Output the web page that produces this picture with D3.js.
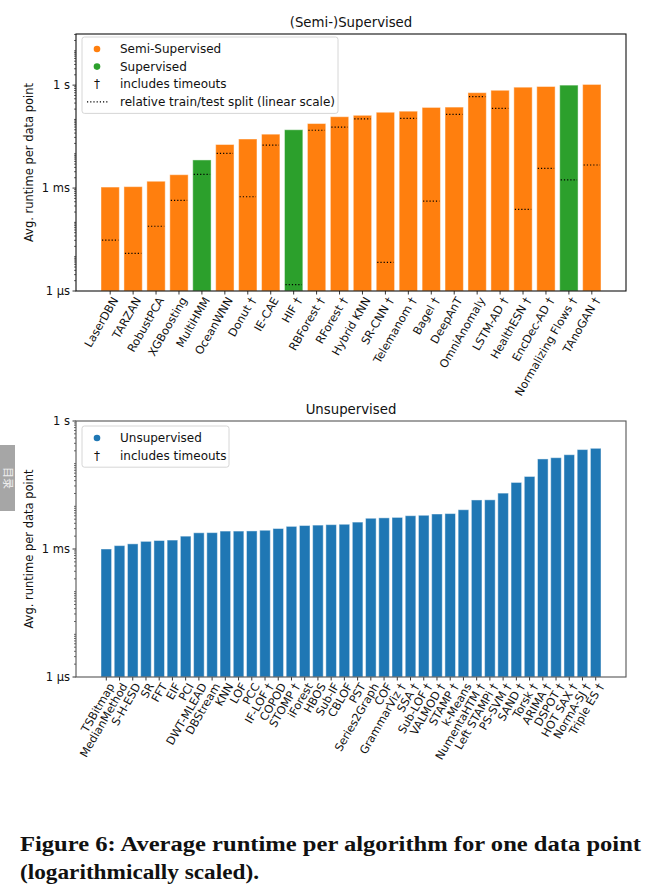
<!DOCTYPE html>
<html><head><meta charset="utf-8">
<script src="https://cdn.jsdelivr.net/npm/d3@7"></script>
<style>body{margin:0;background:#fff}svg{display:block}</style>
</head><body>
<script>
// ---------- DATA ----------
const supCategories = ["LaserDBN","TARZAN","RobustPCA","XGBoosting","MultiHMM","OceanWNN","Donut †","IE-CAE","HIF †","RBForest †","RForest †","Hybrid KNN","SR-CNN †","Telemanom †","Bagel †","DeepAnT","OmniAnomaly","LSTM-AD †","HealthESN †","EncDec-AD †","Normalizing Flows †","TAnoGAN †"];
const supRuntime = [1.07e-3,1.10e-3,1.58e-3,2.45e-3,6.6e-3,0.0186,0.0269,0.0372,0.0501,0.0759,0.120,0.132,0.162,0.174,0.224,0.229,0.603,0.708,0.871,0.912,1.0,1.047];
const supType = ["semi","semi","semi","semi","sup","semi","semi","semi","sup","semi","semi","semi","semi","semi","semi","semi","semi","semi","semi","semi","sup","semi"];
const supTrainShare = [0.49,0.36,0.59,0.78,0.89,0.94,0.62,0.93,0.04,0.96,0.94,0.98,0.16,0.96,0.49,0.96,0.98,0.91,0.40,0.60,0.54,0.61];

const unsupCategories = ["TSBitmap","MedianMethod","S-H-ESD","SR","FFT","EIF","PCI","DWT-MLEAD","DBStream","KNN","LOF","PCC","IF-LOF †","COPOD","STOMP †","iForest","HBOS","Sub-IF","CBLOF","PST","Series2Graph","COF","GrammarViz †","SSA †","Sub-LOF †","VALMOD †","STAMP †","k-Means","NumentaHTM †","Left STAMPi †","PS-SVM †","SAND †","Torsk †","ARIMA †","DSPOT †","HOT SAX †","NormA-SJ †","Triple ES †"];
const unsupRuntime = [1.00e-3,1.20e-3,1.32e-3,1.51e-3,1.58e-3,1.62e-3,2.00e-3,2.40e-3,2.42e-3,2.63e-3,2.63e-3,2.65e-3,2.75e-3,3.02e-3,3.39e-3,3.55e-3,3.63e-3,3.72e-3,3.80e-3,4.27e-3,5.25e-3,5.37e-3,5.50e-3,6.03e-3,6.17e-3,6.61e-3,6.76e-3,8.32e-3,0.0141,0.0142,0.0204,0.0363,0.0501,0.129,0.138,0.162,0.214,0.229];

const yTickValues = [1e-6,1e-3,1];
const yTickLabels = ["1 µs","1 ms","1 s"];
const colors = {semi:"#ff7f0e", sup:"#2ca02c", unsup:"#1f77b4"};

// ---------- SVG ----------
const W = 662, H = 896;
const svg = d3.select("body").append("svg").attr("width", W).attr("height", H)
  .style("font-family", "'DejaVu Sans', sans-serif");

function drawPanel(opts) {
  const {cats, vals, fill, top, bottom, yMax, title, splits} = opts;
  const left = 76, right = 626;
  const n = cats.length;
  const m = 0.05 * (n - 1 + 0.8);
  const x = d3.scaleLinear().domain([-0.4 - m, n - 1 + 0.4 + m]).range([left, right]);
  const y = d3.scaleLog().domain([1e-6, yMax]).range([bottom, top]);
  const g = svg.append("g");
  const bw = x(0.8) - x(0);

  g.selectAll("rect.bar").data(vals).join("rect").attr("class","bar")
    .attr("x", (d,i) => x(i) - bw/2).attr("width", bw)
    .attr("y", d => y(d)).attr("height", d => bottom - y(d))
    .attr("fill", (d,i) => fill(i))
    .attr("stroke", "#fff").attr("stroke-opacity", 0.45).attr("stroke-width", 1);

  if (splits) {
    g.selectAll("line.split").data(vals).join("line").attr("class","split")
      .attr("x1", (d,i) => x(i) - bw/2 + 1).attr("x2", (d,i) => x(i) + bw/2 - 1)
      .attr("y1", (d,i) => bottom - splits[i]*(bottom - y(d)))
      .attr("y2", (d,i) => bottom - splits[i]*(bottom - y(d)))
      .attr("stroke", "#000").attr("stroke-width", 1.2).attr("stroke-dasharray", "1.2,2");
  }

  const minor = [];
  for (let e = -6; e <= 2; e++) for (let k = 1; k <= 9; k++) {
    const v = k * Math.pow(10, e);
    if (v >= 1e-6 && v <= yMax && !(k === 1 && e % 3 === 0)) minor.push(v);
  }
  g.selectAll("line.minor").data(minor).join("line")
    .attr("x1", left - 2).attr("x2", left).attr("y1", d => y(d)).attr("y2", d => y(d))
    .attr("stroke", "#000").attr("stroke-width", 0.6);
  const majors = yTickValues.filter(v => v <= yMax);
  g.selectAll("line.major").data(majors).join("line")
    .attr("x1", left - 3.5).attr("x2", left).attr("y1", d => y(d)).attr("y2", d => y(d))
    .attr("stroke", "#000").attr("stroke-width", 0.8);
  g.selectAll("text.ylab").data(majors).join("text")
    .attr("x", left - 6).attr("y", d => y(d)).attr("dy", "0.35em")
    .attr("text-anchor", "end").attr("font-size", 11.5).attr("fill", "#111")
    .text(d => yTickLabels[yTickValues.indexOf(d)]);

  g.selectAll("line.xt").data(cats).join("line")
    .attr("x1", (d,i) => x(i)).attr("x2", (d,i) => x(i)).attr("y1", bottom).attr("y2", bottom + 3.5)
    .attr("stroke", "#000").attr("stroke-width", 0.8);
  g.selectAll("text.xl").data(cats).join("text")
    .attr("transform", (d,i) => `translate(${x(i) + 5},${bottom + 7}) rotate(-60)`)
    .attr("text-anchor", "end").attr("dy", "0.35em").attr("font-size", 11.3).attr("fill", "#111")
    .text(d => d);

  g.append("rect").attr("x", left).attr("y", top).attr("width", right - left).attr("height", bottom - top)
    .attr("fill", "none").attr("stroke", opts.frame).attr("stroke-width", 1.1);

  g.append("text").attr("x", (left + right)/2).attr("y", top - 7).attr("text-anchor", "middle")
    .attr("font-size", 13.3).attr("fill", "#111").text(title);
  g.append("text").attr("transform", `translate(33,${(top + bottom)/2}) rotate(-90)`)
    .attr("text-anchor", "middle").attr("font-size", 11.5).attr("fill", "#111")
    .text("Avg. runtime per data point");
  return g;
}

drawPanel({cats: supCategories, vals: supRuntime, fill: i => colors[supType[i]],
  top: 34, bottom: 291, yMax: Math.pow(10, 1.49), title: "(Semi-)Supervised", splits: supTrainShare, frame: "#111"});
drawPanel({cats: unsupCategories, vals: unsupRuntime, fill: () => colors.unsup,
  top: 421, bottom: 677, yMax: 1, title: "Unsupervised", frame: "#555"});

function legend(x0, y0, w, items) {
  const h = items.length * 17.6 + 6;
  const g = svg.append("g");
  g.append("rect").attr("x", x0).attr("y", y0).attr("width", w).attr("height", h).attr("rx", 2.5)
    .attr("fill", "#fff").attr("fill-opacity", 0.8).attr("stroke", "#ccc").attr("stroke-width", 0.8);
  items.forEach((it, i) => {
    const cy = y0 + 12 + i * 17.6;
    if (it.type === "dot") g.append("circle").attr("cx", x0 + 15).attr("cy", cy).attr("r", 3.3).attr("fill", it.color);
    if (it.type === "dagger") g.append("text").attr("x", x0 + 15).attr("y", cy).attr("dy", "0.35em")
      .attr("text-anchor", "middle").attr("font-size", 12).attr("fill", "#111").text("†");
    if (it.type === "dots") g.append("line").attr("x1", x0 + 5).attr("x2", x0 + 26).attr("y1", cy).attr("y2", cy)
      .attr("stroke", "#000").attr("stroke-width", 1.2).attr("stroke-dasharray", "1.2,2");
    g.append("text").attr("x", x0 + 38).attr("y", cy).attr("dy", "0.35em").attr("font-size", 12)
      .attr("fill", "#111").text(it.label);
  });
}
legend(82, 37, 256, [
  {type:"dot", color: colors.semi, label:"Semi-Supervised"},
  {type:"dot", color: colors.sup, label:"Supervised"},
  {type:"dagger", label:"includes timeouts"},
  {type:"dots", label:"relative train/test split (linear scale)"}]);
legend(82, 426, 147, [
  {type:"dot", color: colors.unsup, label:"Unsupervised"},
  {type:"dagger", label:"includes timeouts"}]);

const cap = svg.append("g").style("font-family", "'Liberation Serif', 'Times New Roman', serif")
  .attr("font-weight", "bold").attr("font-size", 20).attr("fill", "#111");
cap.append("text").attr("x", 20).attr("y", 851).attr("textLength", 621).attr("lengthAdjust", "spacingAndGlyphs")
  .text("Figure 6: Average runtime per algorithm for one data point");
cap.append("text").attr("x", 20).attr("y", 879).attr("textLength", 239).attr("lengthAdjust", "spacingAndGlyphs")
  .text("(logarithmically scaled).");

svg.append("rect").attr("x", 0).attr("y", 445).attr("width", 15).attr("height", 66).attr("fill", "#a6a6a6");
svg.append("text").attr("transform", "translate(7.5,478) rotate(90)").attr("text-anchor", "middle")
  .attr("dy", "0.35em").attr("font-size", 11).attr("fill", "#eee")
  .style("font-family", "'Noto Sans CJK SC'").text("目录");
</script>
</body></html>
